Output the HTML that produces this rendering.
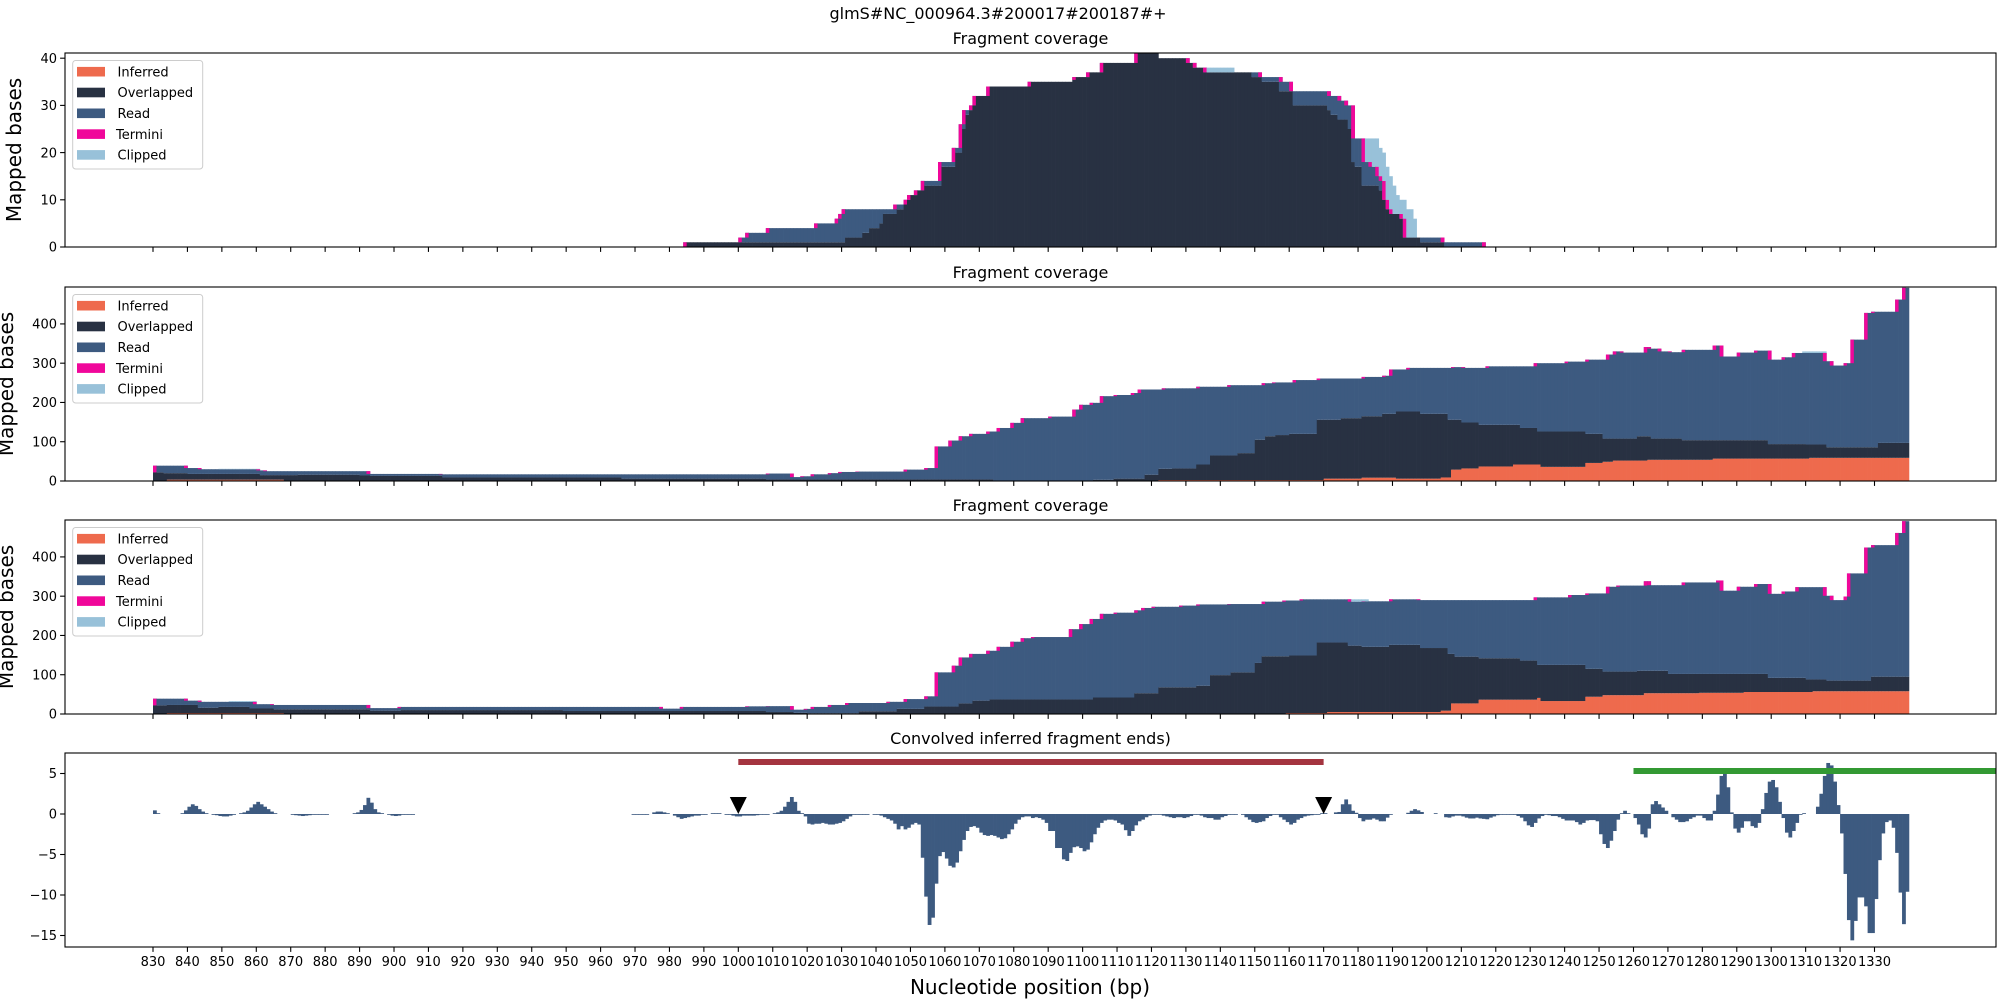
<!DOCTYPE html>
<html><head><meta charset="utf-8">
<style>
html,body{margin:0;padding:0;background:#fff;}
svg{display:block;font-family:"DejaVu Sans","Liberation Sans",sans-serif;}
</style></head>
<body>
<svg id="fig" width="2000" height="1000" viewBox="0 0 2000 1000" xmlns="http://www.w3.org/2000/svg">
<rect x="0" y="0" width="2000" height="1000" fill="#fff"/>
<text x="998" y="19" font-size="16" text-anchor="middle" fill="#000">glmS#NC_000964.3#200017#200187#+</text>
<text x="1030" y="994" font-size="20" text-anchor="middle" fill="#000">Nucleotide position (bp)</text>
</svg>
<script>
// ---------- data ----------
const xTickLabels = [830,840,850,860,870,880,890,900,910,920,930,940,950,960,970,980,990,1000,1010,1020,1030,1040,1050,1060,1070,1080,1090,1100,1110,1120,1130,1140,1150,1160,1170,1180,1190,1200,1210,1220,1230,1240,1250,1260,1270,1280,1290,1300,1310,1320,1330];
const covYTicks1 = [0,10,20,30,40];
const covYTicks2 = [0,100,200,300,400];
const convYTicks = [5,0,-5,-10,-15];
const legendLabels = ["Inferred","Overlapped","Read","Termini","Clipped"];

// Panel 1 (step starts in bp, cumulative stack levels)
const p1InfStarts = [830];
const p1InfVals = [0];
const p1OvStarts = [830,985,1031,1036,1038,1041,1042,1046,1048,1049,1050,1052,1054,1059,1063,1065,1066,1067,1068,1069,1073,1085,1097,1102,1106,1116,1122,1130,1132,1135,1149,1152,1157,1161,1171,1172,1174,1177,1178,1179,1181,1186,1187,1188,1189,1192,1193,1198,1205];
const p1OvVals = [0,1,2,3,4,5,7,8,9,10,11,12,13,17,20,25,28,29,30,32,34,35,36,37,39,41,40,39,38,37,36,35,33,30,29,28,27,25,18,17,13,12,10,8,7,6,2,1,0];
const p1TotStarts = [830,984,1000,1002,1008,1022,1028,1029,1030,1045,1048,1049,1051,1053,1058,1062,1064,1065,1067,1068,1072,1084,1101,1105,1115,1122,1131,1133,1136,1152,1158,1161,1172,1175,1177,1179,1182,1184,1186,1187,1188,1189,1190,1193,1194,1205,1217];
const p1TotVals = [0,1,2,3,4,5,6,7,8,9,10,11,12,14,18,21,26,29,30,32,34,35,37,39,42,40,39,38,37,36,35,33,32,31,30,23,18,17,15,14,10,8,7,6,2,1,0];
const p1ClipStarts = [830,1136,1144,1179,1186,1187,1188,1189,1190,1191,1192,1194,1196,1197,1198];
const p1ClipVals = [0,38,0,23,21,20,17,15,13,11,10,8,6,2,0];

// Panel 2
const p2InfStarts = [830,834,868,1122,1170,1181,1191,1204,1207,1210,1215,1225,1233,1246,1251,1254,1264,1283,1311];
const p2InfVals = [0,3.4,0,2.5,6,8.5,6,9,29,32,37,42,36,46,49,52,54,57,59];
const p2OvStarts = [830,833,840,861,872,890,893,914,966,1008,1074,1103,1109,1118,1122,1126,1133,1137,1145,1150,1153,1156,1160,1168,1175,1181,1187,1191,1198,1206,1210,1215,1227,1232,1246,1251,1261,1265,1274,1299,1310,1316,1331];
const p2OvVals = [22,20,18,15,16,14,13,9,6,4,0,3,6,16,31,32,42,65,71,105,114,117,120,156,160,165,171,177,171,156,149,143,135,126,120,108,114,108,104,94,93,86,97];
const p2TotStarts = [830,840,844,861,863,893,914,1008,1016,1018,1021,1026,1029,1034,1048,1054,1057,1061,1064,1067,1072,1075,1079,1082,1090,1097,1099,1102,1105,1109,1114,1116,1123,1133,1142,1152,1155,1161,1168,1181,1187,1189,1194,1207,1211,1217,1231,1240,1246,1252,1254,1257,1263,1265,1268,1271,1274,1283,1286,1290,1295,1300,1303,1306,1316,1318,1321,1323,1327,1329,1336,1338];
const p2TotVals = [39,33,30,27,25,18,17,19,10,12,17,20,23,24,29,33,88,103,114,120,126,135,148,160,164,182,194,199,216,219,224,233,236,240,244,249,251,257,261,265,268,284,288,290,288,292,300,304,309,322,330,327,341,337,330,328,334,345,317,327,332,309,315,326,305,294,300,360,428,431,462,492];
const p2ClipStarts = [830,849,861,1309,1316];
const p2ClipVals = [0,31,0,330,0];

// Panel 3
const p3InfStarts = [830,834,868,1159,1171,1204,1207,1215,1232,1233,1246,1251,1263,1279,1292,1312];
const p3InfVals = [0,2.5,0,2.5,5,8.5,27,36.5,41,33,44,48,53,54,56,58];
const p3OvStarts = [830,834,843,849,858,865,893,902,949,1008,1016,1020,1035,1046,1054,1064,1068,1073,1103,1115,1122,1133,1137,1143,1150,1152,1160,1168,1177,1181,1189,1198,1206,1208,1215,1227,1232,1246,1251,1261,1270,1299,1310,1316,1329];
const p3OvVals = [22,23,16,18,14,12,8.5,10,7.6,5,3,2,7,13,19,27,34,37,42,53,68,72,99,106,130,147,149,182,174,171,176,168,153,146,142,136,125,115,108,110,102,92,88,85,95];
const p3TotStarts = [830,840,844,860,865,893,901,978,983,1002,1008,1016,1019,1021,1026,1031,1043,1048,1054,1057,1062,1064,1067,1072,1075,1079,1082,1085,1096,1099,1102,1105,1109,1115,1117,1120,1128,1133,1142,1152,1158,1163,1178,1181,1189,1198,1231,1241,1246,1252,1255,1263,1265,1274,1284,1286,1290,1295,1300,1303,1307,1316,1318,1321,1322,1327,1329,1336,1338];
const p3TotVals = [39,34,31,25,23,15,18,13.6,18,19.5,20,11,13,18,23,28,31,38,45,106,123,144,153,161,171,184,193,196,216,229,242,255,258,264,270,273,276,279,280,286,289,292,286,287,292,290,297,303,307,324,327,338,328,335,340,314,324,331,306,312,323,301,290,299,358,424,430,461,491];
const p3ClipStarts = [830,852,860,1176,1183];
const p3ClipVals = [0,33,0,292,0];

// Panel 4: convolved inferred fragment ends (segments by start bp)
const convSegStart = [830,838,847,855,870,888,898,969,975,981,992,996,1010,1039,1047,1261];
const convSegValues = [
 [0.45,0.1],
 [0.1,0.45,0.9,1.2,1.0,0.6,0.3,0.1],
 [-0.1,-0.15,-0.25,-0.3,-0.3,-0.2,-0.1],
 [0.1,0.2,0.4,0.8,1.2,1.5,1.2,0.9,0.6,0.3,0.1],
 [-0.1,-0.15,-0.2,-0.25,-0.2,-0.15,-0.1,-0.05,-0.05,-0.05,-0.05],
 [0.1,0.2,0.5,1.1,2.0,1.4,0.6,0.2,0.1],
 [-0.1,-0.2,-0.25,-0.2,-0.1,-0.05,-0.05,-0.05],
 [-0.05,-0.05,-0.05,-0.05,-0.05],
 [0.2,0.3,0.3,0.2,0.1],
 [-0.2,-0.4,-0.6,-0.5,-0.4,-0.3,-0.2,-0.2,-0.1,-0.1],
 [0.1,0.1,0.1],
 [-0.05,-0.1,-0.2,-0.3,-0.3,-0.2,-0.2,-0.2,-0.2,-0.15,-0.1,-0.1,-0.05],
 [0.1,0.2,0.4,0.9,1.5,2.1,1.5,0.4,0.1,-0.3,-1.2,-1.3,-1.2,-1.2,-1.1,-1.2,-1.3,-1.3,-1.2,-1.1,-0.9,-0.6,-0.3,-0.1,-0.05,-0.05,-0.05,-0.05],
 [-0.05,-0.1,-0.2,-0.4,-0.6,-0.8,-1.2,-1.9],
 [-1.5,-1.9,-1.7,-1.3,-1.1,-1.3,-5.4,-10.2,-13.7,-12.8,-8.6,-5.2,-4.7,-5.5,-6.4,-6.6,-6.0,-4.6,-3.2,-2.1,-1.6,-1.5,-1.7,-2.3,-2.6,-2.7,-2.6,-2.7,-2.9,-3.1,-3.0,-2.5,-1.9,-1.2,-0.7,-0.4,-0.3,-0.3,-0.5,-0.4,-0.5,-0.7,-1.1,-2.1,-2.1,-4.2,-4.2,-5.6,-5.8,-4.8,-4.1,-4.0,-4.2,-4.6,-4.4,-3.5,-2.5,-1.7,-1.1,-0.8,-0.7,-0.7,-0.8,-1.1,-1.3,-2.0,-2.7,-2.1,-1.4,-0.9,-0.7,-0.4,-0.2,-0.1,-0.05,-0.1,-0.2,-0.3,-0.4,-0.5,-0.4,-0.4,-0.5,-0.4,-0.25,-0.1,-0.1,-0.2,-0.4,-0.5,-0.5,-0.7,-0.7,-0.4,-0.25,-0.1,-0.05,-0.05,0,-0.1,-0.4,-0.7,-1.0,-1.1,-1.0,-0.9,-0.5,-0.25,-0.1,-0.1,-0.4,-0.7,-1.0,-1.3,-1.1,-0.7,-0.5,-0.3,-0.2,-0.15,-0.1,-0.05,0.1,0.1,0,0,0.2,0.25,1.2,1.8,1.2,0.4,0.15,-0.5,-0.9,-0.7,-0.7,-0.55,-0.7,-0.9,-0.9,-0.45,-0.05,0,0,0,0,0.15,0.4,0.6,0.45,0.25,0,0,0,0.1,0,0,-0.4,-0.45,-0.3,-0.2,-0.2,-0.3,-0.45,-0.55,-0.55,-0.45,-0.55,-0.6,-0.65,-0.45,-0.3,-0.15,-0.05,-0.05,-0.05,-0.05,-0.1,-0.25,-0.45,-0.9,-1.4,-1.6,-1.1,-0.55,-0.25,-0.1,-0.15,-0.25,-0.25,-0.4,-0.6,-0.8,-0.8,-0.8,-1.0,-1.3,-1.1,-0.8,-0.75,-0.75,-0.9,-2.5,-3.7,-4.2,-3.3,-2.1,-0.7,0.1,0.4,0.1,0,-0.5],
 [-1.3,-2.5,-2.9,-1.8,1.2,1.6,1.2,0.8,0.4,0,-0.4,-0.7,-1.0,-1.0,-0.9,-0.6,-0.4,-0.2,-0.2,-0.5,-0.8,-0.8,0.4,2.4,4.7,5.3,3.3,0.2,-1.8,-2.3,-1.7,-0.9,-0.9,-1.5,-1.7,-1.1,0.6,2.6,4.0,4.2,3.3,1.5,-0.5,-2.3,-2.9,-2.1,-1.1,-0.1,0.1,0,0,0,0.9,2.5,4.7,6.3,6.0,4.0,1.1,-2.4,-7.4,-13.1,-15.6,-13.2,-10.3,-10.3,-11.4,-14.7,-14.7,-10.5,-5.7,-2.4,-1.0,-0.8,-1.7,-4.8,-9.7,-13.6,-9.6]
];
const regionRed = [1000,1170];
const regionGreen = [1260,1400];
const markerPositions = [1000,1170];

// ---------- layout ----------
const NS = "http://www.w3.org/2000/svg";
const svg = document.getElementById('fig');
const AX_L = 65, AX_R = 1996, PH = 194;
const BP_FIRST = 830, BP_LAST = 1339;
function xScale(bp){ return 153 + (bp - 830) * 3.443; }
const COL = {inf:"#ee6a4d", ov:"#283142", read:"#3d5a80", term:"#f0079a", clip:"#98c1d9"};

function mk(tag, attrs, parent){
  const e = document.createElementNS(NS, tag);
  for (const k in attrs) e.setAttribute(k, attrs[k]);
  (parent || svg).appendChild(e);
  return e;
}
function expand(starts, vals){
  const out = {};
  for (let b = BP_FIRST; b <= BP_LAST; b++){
    let v = 0;
    for (let i = 0; i < starts.length; i++){ if (starts[i] <= b) v = vals[i]; }
    out[b] = v;
  }
  return out;
}

function drawAxes(top, ymin, ymax, ticks, showXLabels, name){
  const ys = v => top + PH - (v - ymin) / (ymax - ymin) * PH;
  const g = mk('g', {});
  
  
  ticks.forEach(t => {
    const y = ys(t);
    const tl = mk('line', {x1:AX_L-4.9, x2:AX_L, y1:y, y2:y, stroke:'#000', 'stroke-width':1.1}, g);
    
    
    const tx = mk('text', {x:AX_L-8, y:y+4.7, 'font-size':13, 'text-anchor':'end', fill:'#000'}, g);
    
    
    tx.textContent = String(t).replace('-', '\u2212');
  });
  xTickLabels.forEach(t => {
    const x = xScale(t);
    const tl = mk('line', {x1:x, x2:x, y1:top+PH, y2:top+PH+4.9, stroke:'#000', 'stroke-width':1.1}, g);
    
    
    if (showXLabels){
      const tx = mk('text', {x:x, y:top+PH+19, 'font-size':13, 'text-anchor':'middle', fill:'#000'}, g);
      
      
      tx.textContent = t;
    }
  });
  return ys;
}
function frame(top, name){
  const r = mk('rect', {x:AX_L, y:top, width:AX_R-AX_L, height:PH, fill:'none', stroke:'#000', 'stroke-width':1.1});
  
  
}
function title(top, txt, name){
  const t = mk('text', {x:(AX_L+AX_R)/2, y:top-9, 'font-size':16, 'text-anchor':'middle', fill:'#000'});
  
  
  t.textContent = txt;
}
function ylabel(top, cx, name){
  const cy = top + PH/2;
  const t = mk('text', {x:cx, y:cy, 'font-size':20, 'text-anchor':'middle', transform:'rotate(-90 '+cx+' '+cy+')', fill:'#000'});
  
  
  t.textContent = 'Mapped bases';
}
function legend(top, name){
  const g = mk('g', {});
  
  
  const box = mk('rect', {x:72.7, y:top+7.5, width:130, height:108.5, rx:3, fill:'#fff', 'fill-opacity':0.8, stroke:'#ccc', 'stroke-width':1}, g);
  
  
  const cols = [COL.inf, COL.ov, COL.read, COL.term, COL.clip];
  legendLabels.forEach((lab, i) => {
    const cy = top + 18.7 + i*20.8;
    const p = mk('rect', {x:77, y:cy-4.8, width:28, height:9.6, fill:cols[i]}, g);
    
    
    const t = mk('text', {x:lab==='Termini'?116:117.5, y:cy+4.7, 'font-size':13, fill:'#000'}, g);
    
    
    t.textContent = lab;
  });
}
function coverage(top, ymax, ticks, inf, ov, tot, clip, name, ylx){
  title(top, 'Fragment coverage', name);
  const ys = drawAxes(top, 0, ymax, ticks, false, name);
  const I = expand(inf[0], inf[1]), O = expand(ov[0], ov[1]), T = expand(tot[0], tot[1]), C = expand(clip[0], clip[1]);
  const g = mk('g', {});
  
  
  const clampY = v => Math.max(top, ys(v));
  function seg(b, lo, hi, col, nm){
    if (hi - lo <= 0) return;
    const x = xScale(b), w = xScale(b+1) - x;
    const y1 = clampY(hi), y0 = ys(lo);
    if (y0 - y1 <= 0) return;
    const r = mk('rect', {x:x, y:y1, width:w+0.35, height:y0-y1, fill:col}, g);
    
    
  }
  for (let b = BP_FIRST; b <= BP_LAST; b++){
    const l0 = I[b], l1 = Math.max(O[b], l0), l3 = Math.max(T[b], l1);
    const prev = b > BP_FIRST ? Math.max(T[b-1], O[b-1]) : 0;
    const next = b < BP_LAST ? Math.max(T[b+1], O[b+1]) : l3;
    let tb = l3;
    if (l3 > prev) tb = prev; else if (l3 > next) tb = next;
    tb = Math.max(tb, l1);
    if (l3 > prev || l3 > next) tb = Math.min(tb, l3 - 0.6);
    const c = Math.max(C[b], l3);
    seg(b, 0, l0, COL.inf, 'bar-inferred');
    seg(b, l0, l1, COL.ov, 'bar-overlapped');
    seg(b, l1, l3, COL.read, 'bar-read');
    if (l3 > 0 && (l3 > prev || l3 > next)) seg(b, Math.max(tb, 0), l3, COL.term, 'bar-termini');
    seg(b, l3, c, COL.clip, 'bar-clipped');
  }
  frame(top, name);
  legend(top, name);
  ylabel(top, ylx, name);
}

coverage(53, 41.1, covYTicks1, [p1InfStarts,p1InfVals], [p1OvStarts,p1OvVals], [p1TotStarts,p1TotVals], [p1ClipStarts,p1ClipVals], 'panel1', 21);
coverage(287, 494, covYTicks2, [p2InfStarts,p2InfVals], [p2OvStarts,p2OvVals], [p2TotStarts,p2TotVals], [p2ClipStarts,p2ClipVals], 'panel2', 13);
coverage(520, 494, covYTicks2, [p3InfStarts,p3InfVals], [p3OvStarts,p3OvVals], [p3TotStarts,p3TotVals], [p3ClipStarts,p3ClipVals], 'panel3', 13);

// Panel 4
(function(){
  const top = 753;
  const ymax = (814 - 753) / 8.1, ymin = -(947 - 814) / 8.1;
  title(top, 'Convolved inferred fragment ends)', 'panel4');
  const ys = drawAxes(top, ymin, ymax, convYTicks, true, 'panel4');
  const g = mk('g', {});
  
  
  convSegStart.forEach((s, si) => {
    convSegValues[si].forEach((v, k) => {
      if (v === 0) return;
      const b = s + k;
      const x = xScale(b), w = xScale(b+1) - x;
      const y0 = ys(0), y1 = ys(v);
      const r = mk('rect', {x:x, y:Math.min(y0,y1), width:w+0.35, height:Math.max(Math.abs(y1-y0),0.8), fill:COL.read}, g);
      
      
    });
  });
  const red = mk('rect', {x:xScale(regionRed[0]), y:759, width:xScale(regionRed[1])-xScale(regionRed[0]), height:6, fill:'#a4343f'});
  
  
  const gx0 = xScale(regionGreen[0]);
  const green = mk('rect', {x:gx0, y:768, width:Math.min(xScale(regionGreen[1]), AX_R) - gx0, height:6, fill:'#339933'});
  
  
  markerPositions.forEach(p => {
    const x = xScale(p), y = ys(0);
    const tri = mk('polygon', {points:(x-8.5)+','+(y-17)+' '+(x+8.5)+','+(y-17)+' '+x+','+y, fill:'#000'});
    
    
  });
  frame(top, 'panel4');
})();
</script>
</body></html>
